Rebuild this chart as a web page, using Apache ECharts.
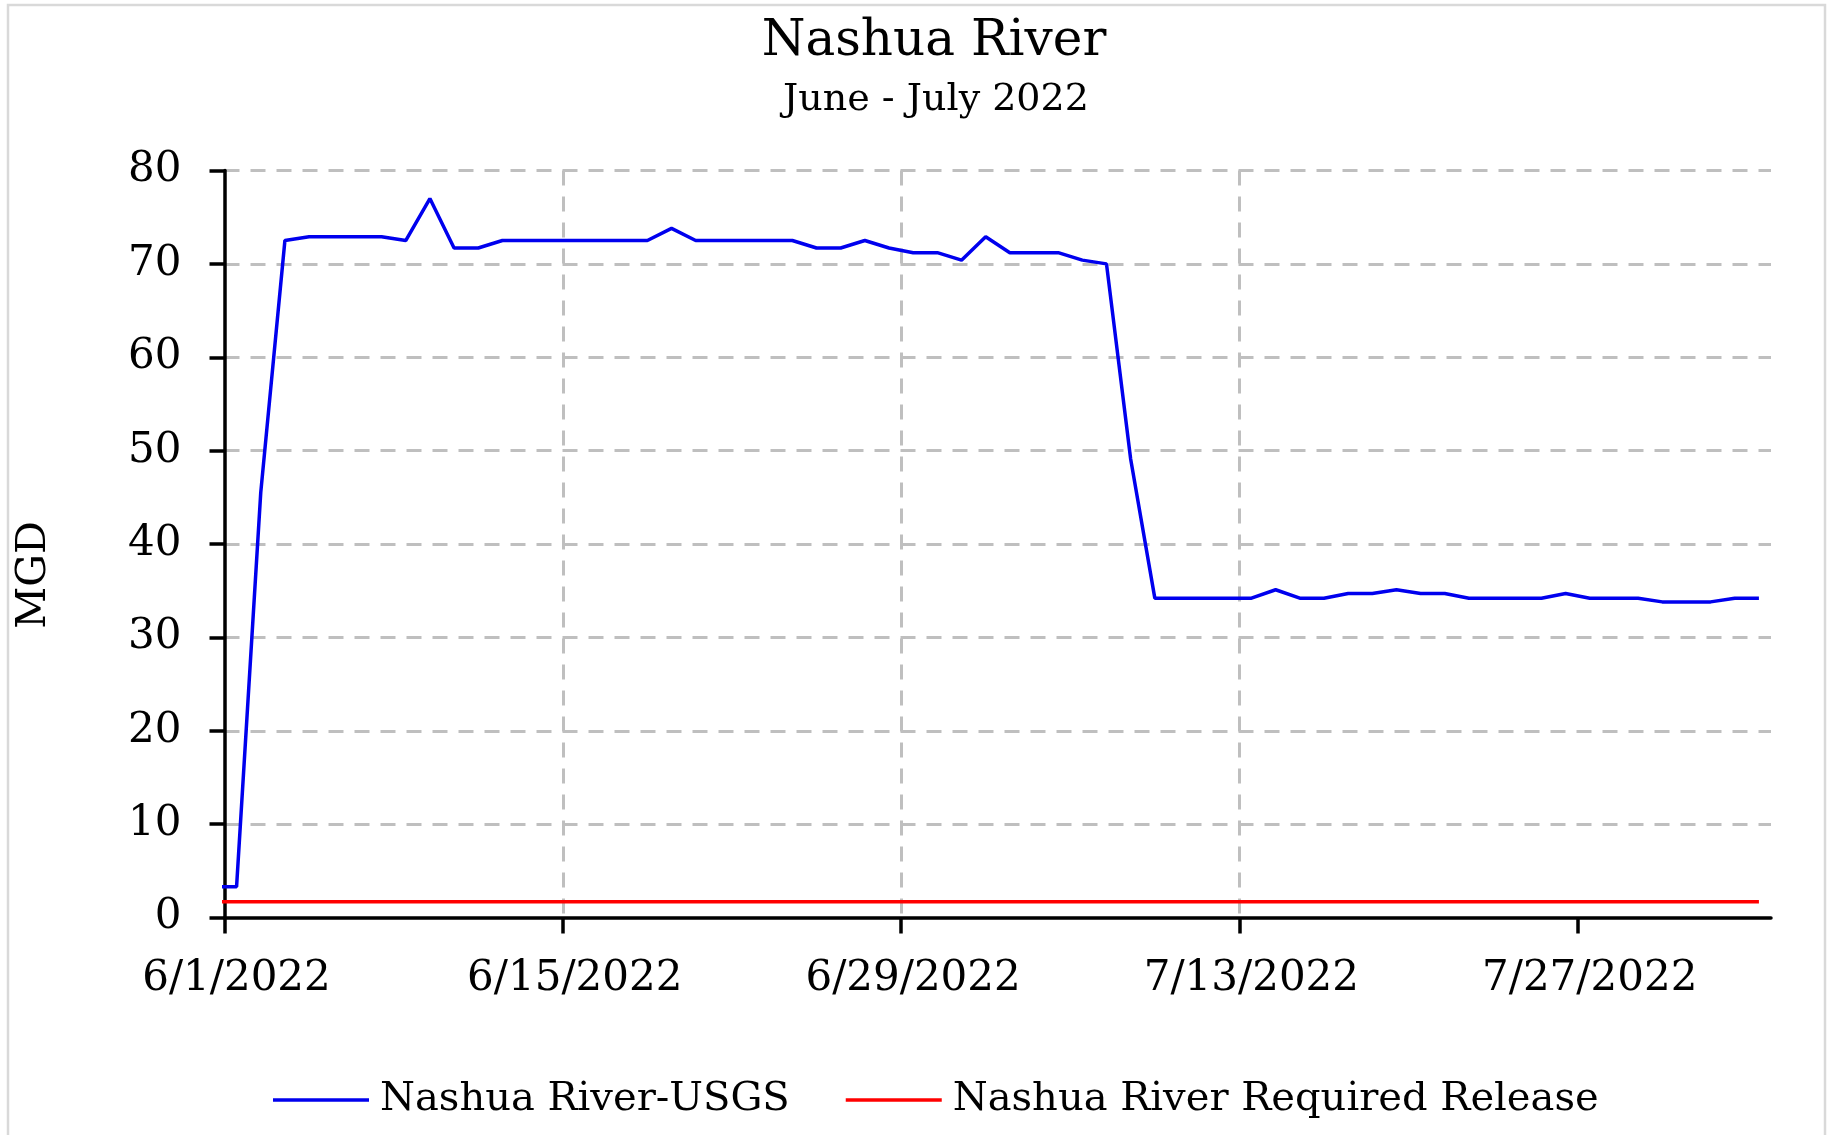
<!DOCTYPE html>
<html>
<head>
<meta charset="utf-8">
<title>Nashua River</title>
<script src="https://cdn.jsdelivr.net/npm/echarts@6/dist/echarts.min.js"></script>
<style>
html, body { margin: 0; padding: 0; background: #fff; }
#chart { width: 1833px; height: 1135px; }
</style>
</head>
<body>
<div id="chart"></div>
<script>
// daily flow, MGD (first day sits left of the axis start and gets clipped)
let dates = [
    '5/31/2022',
    '6/1/2022', '6/2/2022', '6/3/2022', '6/4/2022', '6/5/2022', '6/6/2022', '6/7/2022',
    '6/8/2022', '6/9/2022', '6/10/2022', '6/11/2022', '6/12/2022', '6/13/2022', '6/14/2022',
    '6/15/2022', '6/16/2022', '6/17/2022', '6/18/2022', '6/19/2022', '6/20/2022', '6/21/2022',
    '6/22/2022', '6/23/2022', '6/24/2022', '6/25/2022', '6/26/2022', '6/27/2022', '6/28/2022',
    '6/29/2022', '6/30/2022', '7/1/2022', '7/2/2022', '7/3/2022', '7/4/2022', '7/5/2022',
    '7/6/2022', '7/7/2022', '7/8/2022', '7/9/2022', '7/10/2022', '7/11/2022', '7/12/2022',
    '7/13/2022', '7/14/2022', '7/15/2022', '7/16/2022', '7/17/2022', '7/18/2022', '7/19/2022',
    '7/20/2022', '7/21/2022', '7/22/2022', '7/23/2022', '7/24/2022', '7/25/2022', '7/26/2022',
    '7/27/2022', '7/28/2022', '7/29/2022', '7/30/2022', '7/31/2022', '8/1/2022', '8/2/2022',
    '8/3/2022'
]
let usgsFlow = [
    3.3,
    3.3, 45.5, 72.5, 72.9, 72.9, 72.9, 72.9,
    72.5, 77.0, 71.7, 71.7, 72.5, 72.5, 72.5,
    72.5, 72.5, 72.5, 72.5, 73.8, 72.5, 72.5,
    72.5, 72.5, 72.5, 71.7, 71.7, 72.5, 71.7,
    71.2, 71.2, 70.4, 72.9, 71.2, 71.2, 71.2,
    70.4, 70.0, 49.1, 34.2, 34.2, 34.2, 34.2,
    34.2, 35.1, 34.2, 34.2, 34.7, 34.7, 35.1,
    34.7, 34.7, 34.2, 34.2, 34.2, 34.2, 34.7,
    34.2, 34.2, 34.2, 33.8, 33.8, 33.8, 34.2,
    34.2
]
let releaseDates = ['5/31/2022', '8/3/2022']
let releaseValues = [1.7, 1.7]

let axisStart = '6/1/2022'
let axisDays = 64
let tickDays = [0, 14, 28, 42, 56]
let tickLabels = ['6/1/2022', '6/15/2022', '6/29/2022', '7/13/2022', '7/27/2022']

let font = 'DejaVu Serif'

function dayOf(s) {
    let p = s.split('/')
    let a = axisStart.split('/')
    return (Date.UTC(+p[2], +p[0] - 1, +p[1]) - Date.UTC(+a[2], +a[0] - 1, +a[1])) / 86400000
}
// Excel date axis, "between tick marks": each day's point sits mid-day
function toPoints(ds, vs) {
    return ds.map((d, i) => [dayOf(d) + 0.5, vs[i]])
}

let gridLine = { show: true, lineStyle: { color: '#bfbfbf', width: 3, type: [15, 11] } }

let option = {
    backgroundColor: '#fff',
    animation: false,
    graphic: [{
        type: 'rect',
        shape: { x: 8, y: 5, width: 1817, height: 1140 },
        style: { fill: 'none', stroke: '#d9d9d9', lineWidth: 2.5 },
        silent: true
    }],
    title: [{
        text: 'Nashua River',
        left: 929, top: 12, textAlign: 'center',
        textStyle: { fontFamily: font, fontSize: 50, fontWeight: 'normal', color: '#000' }
    }, {
        text: 'June - July 2022',
        left: 931, top: 76, textAlign: 'center',
        textStyle: { fontFamily: font, fontSize: 38, fontWeight: 'normal', color: '#000' }
    }],
    legend: {
        left: 268, top: 1075,
        icon: 'rect', itemWidth: 96, itemHeight: 3.5, itemGap: 56,
        textStyle: { fontFamily: font, fontSize: 40, color: '#000', padding: [0, 0, 0, 6] },
        data: ['Nashua River-USGS', 'Nashua River Required Release']
    },
    grid: { left: 224.5, right: 62, top: 170.5, bottom: 217.5, containLabel: false },
    xAxis: {
        type: 'value', min: 0, max: axisDays, interval: 14,
        axisLine: { show: true, lineStyle: { color: '#000', width: 3.5 } },
        axisTick: { show: true, length: 16, lineStyle: { color: '#000', width: 3.5 }, customValues: tickDays },
        axisLabel: {
            customValues: tickDays, margin: 41,
            fontFamily: font, fontSize: 42, color: '#000',
            padding: [0, 0, 0, 24],
            formatter: v => tickLabels[tickDays.indexOf(v)] || ''
        },
        splitLine: Object.assign({ showMinLine: false, showMaxLine: false }, gridLine)
    },
    yAxis: {
        type: 'value', min: 0, max: 80, interval: 10,
        name: 'MGD', nameLocation: 'middle', nameRotate: 90, nameGap: 170,
        nameTextStyle: { fontFamily: font, fontSize: 41, color: '#000', padding: [0, 62, 0, 0] },
        axisLine: { show: true, lineStyle: { color: '#000', width: 3.5 } },
        axisTick: { show: true, length: 15, lineStyle: { color: '#000', width: 3.5 } },
        axisLabel: { margin: 43, fontFamily: font, fontSize: 42, color: '#000' },
        splitLine: Object.assign({ showMinLine: false }, gridLine)
    },
    series: [{
        name: 'Nashua River-USGS', type: 'line',
        data: toPoints(dates, usgsFlow),
        showSymbol: false, clip: true,
        itemStyle: { color: '#0000ee' },
        lineStyle: { color: '#0000ee', width: 3.5 }
    }, {
        name: 'Nashua River Required Release', type: 'line',
        data: toPoints(releaseDates, releaseValues),
        showSymbol: false, clip: true,
        itemStyle: { color: '#ff0000' },
        lineStyle: { color: '#ff0000', width: 3.5 }
    }]
}

let myChart = echarts.init(document.getElementById('chart'))
myChart.setOption(option)
</script>
</body>
</html>
